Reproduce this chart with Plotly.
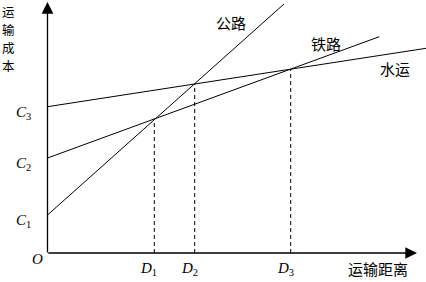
import plotly.graph_objects as go

# ---- data (cost vs. distance, arbitrary units) ----
modes = ["公路", "铁路", "水运"]
line_x = {"公路": [0, 236.5], "铁路": [0, 331.8], "水运": [0, 378.5]}
line_y = {"公路": [38, 249], "铁路": [95, 216.3], "水运": [146.3, 204.7]}
mode_label_pos = {"公路": (183, 231), "铁路": (278.5, 210), "水运": (347.5, 185)}

c_labels = ["C<sub>1</sub>", "C<sub>2</sub>", "C<sub>3</sub>"]
c_values = [38, 95, 146.3]

d_labels = ["D<sub>1</sub>", "D<sub>2</sub>", "D<sub>3</sub>"]
d_x = [106.8, 147.2, 243.2]
d_y = [133.7, 169.0, 184.0]

x_title = "运输距离"
y_title = "运输成本"

serif = "Liberation Serif, Times New Roman, serif"
cjk = "Noto Sans CJK SC, sans-serif"

fig = go.Figure()

for m in modes:
    fig.add_trace(go.Scatter(x=line_x[m], y=line_y[m], mode="lines",
                             line=dict(color="black", width=1), showlegend=False,
                             hoverinfo="skip"))

for xv, yv in zip(d_x, d_y):
    fig.add_trace(go.Scatter(x=[xv, xv], y=[0, yv], mode="lines",
                             line=dict(color="black", width=1, dash="4px,3px"),
                             showlegend=False, hoverinfo="skip"))

ann = []
# axes with arrows
ann.append(dict(x=0, y=251, ax=0, ay=-1, xref="x", yref="y", axref="x", ayref="y",
                showarrow=True, arrowhead=2, arrowsize=1.8, arrowwidth=1.3,
                arrowcolor="black", text=""))
ann.append(dict(x=369.5, y=0, ax=-0.7, ay=0, xref="x", yref="y", axref="x", ayref="y",
                showarrow=True, arrowhead=2, arrowsize=1.8, arrowwidth=1.3,
                arrowcolor="black", text=""))

for lab, v in zip(c_labels, c_values):
    ann.append(dict(x=-24.5, y=v - 6, xref="x", yref="y", text="<i>" + lab[0] + "</i>" + lab[1:],
                    showarrow=False, font=dict(family=serif, size=15, color="black")))
for lab, xv in zip(d_labels, d_x):
    ann.append(dict(x=xv - 5.5, y=-16, xref="x", yref="y", text="<i>" + lab[0] + "</i>" + lab[1:],
                    showarrow=False, font=dict(family=serif, size=15, color="black")))
ann.append(dict(x=-10.5, y=-6, xref="x", yref="y", text="<i>O</i>", showarrow=False,
                font=dict(family=serif, size=15, color="black")))

for m in modes:
    px_, py_ = mode_label_pos[m]
    ann.append(dict(x=px_, y=py_, xref="x", yref="y", text=m, showarrow=False,
                    font=dict(family=cjk, size=15, color="black")))

ann.append(dict(x=330, y=-15, xref="x", yref="y", text=x_title, showarrow=False,
                font=dict(family=cjk, size=15, color="black")))
# vertical y-axis title, one character per row
for i, ch in enumerate(y_title):
    ann.append(dict(x=-39.5, y=241.5 - i * 18.1, xref="x", yref="y", text=ch,
                    showarrow=False, borderpad=0,
                    font=dict(family=cjk, size=12.5, color="black")))

fig.update_layout(
    width=426, height=282,
    margin=dict(l=0, r=0, t=0, b=0),
    paper_bgcolor="white", plot_bgcolor="white",
    xaxis=dict(range=[-47.5, 378.5], visible=False, fixedrange=True),
    yaxis=dict(range=[-29, 253], visible=False, fixedrange=True),
    annotations=ann,
)

fig.write_html("out.html")
